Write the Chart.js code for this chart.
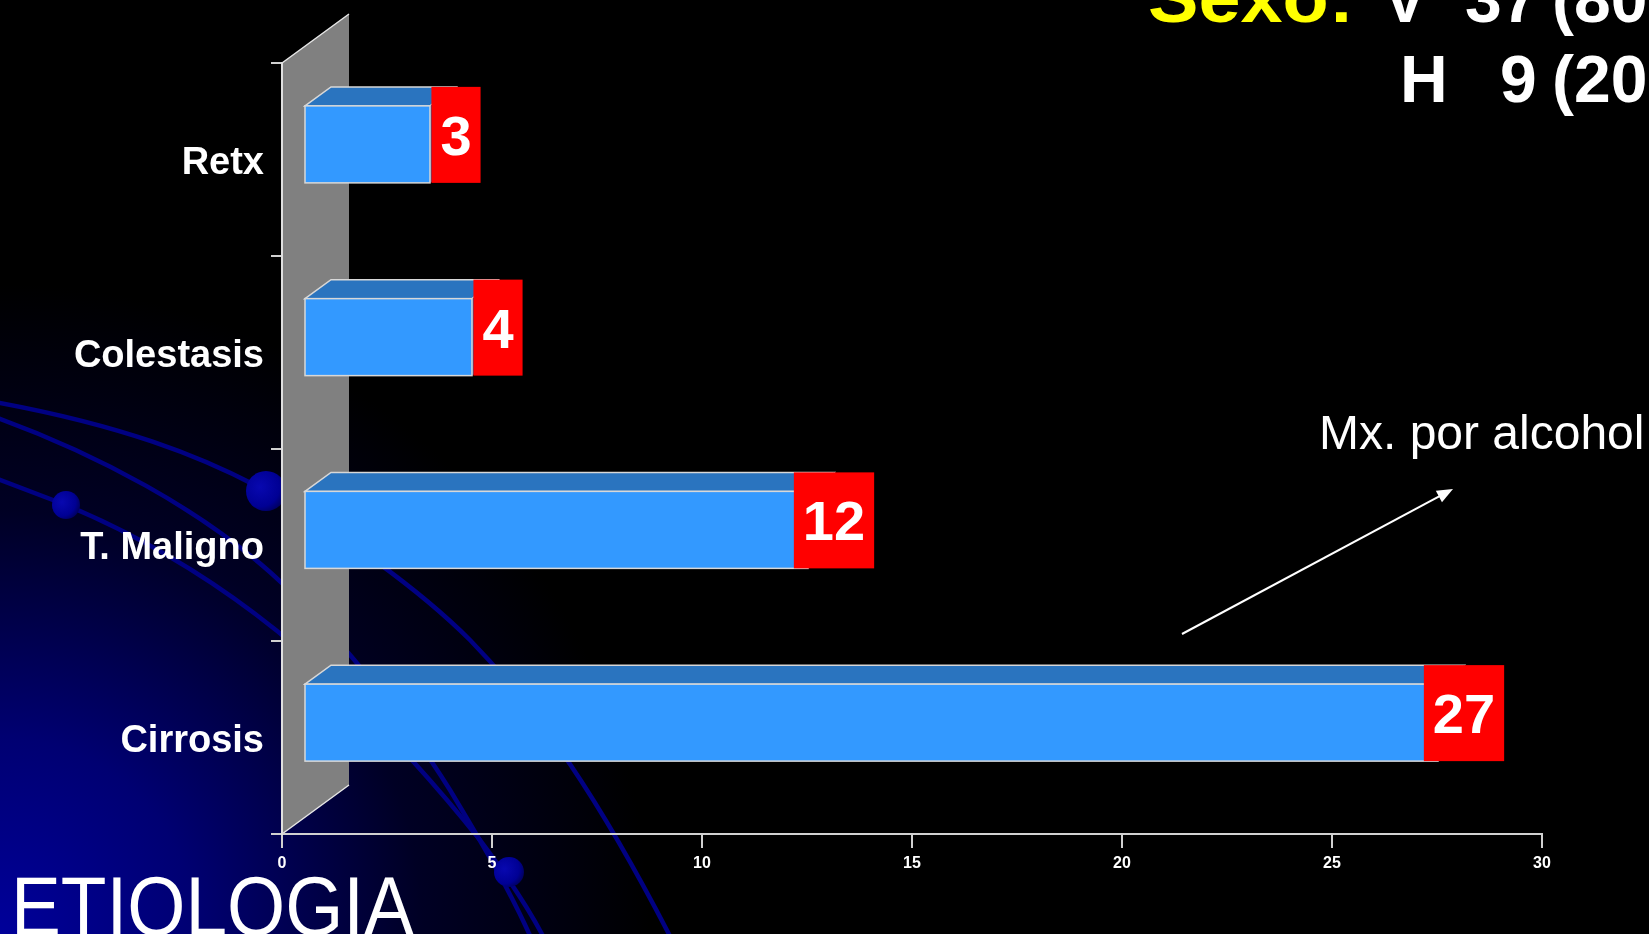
<!DOCTYPE html>
<html>
<head>
<meta charset="utf-8">
<script src="https://cdn.jsdelivr.net/npm/chart.js@4"></script>
<style>
  html, body { margin: 0; padding: 0; background: #000; }
  body { width: 1649px; height: 934px; overflow: hidden; position: relative; font-family: 'Liberation Sans', Arial, sans-serif; }
  #bg { position: absolute; left: 0; top: 0; }
  #chart { position: absolute; left: 0; top: 0; }
  .txt { position: absolute; white-space: nowrap; line-height: 1; color: #fff; }
  .big { font-size: 66px; font-weight: bold; }
</style>
</head>
<body>
<svg id="bg" width="1649" height="934" viewBox="0 0 1649 934">
  <defs>
    <radialGradient id="glow" cx="0" cy="934" r="650" gradientUnits="userSpaceOnUse">
      <stop offset="0" stop-color="#00009a"/>
      <stop offset="0.3" stop-color="#000072"/>
      <stop offset="0.65" stop-color="#000024"/>
      <stop offset="1" stop-color="#000000"/>
    </radialGradient>
    <radialGradient id="ball" cx="0.35" cy="0.4" r="0.7">
      <stop offset="0" stop-color="#0808b0"/>
      <stop offset="0.7" stop-color="#000094"/>
      <stop offset="1" stop-color="#000058"/>
    </radialGradient>
  </defs>
  <rect width="1649" height="934" fill="#000"/>
  <rect width="1649" height="934" fill="url(#glow)"/>
  <g fill="none" stroke="#000082" stroke-width="4.5">
    <path d="M -5 402 C 120 425, 200 455, 266 491 C 340 532, 420 590, 470 640 C 540 712, 600 800, 672 940"/>
    <path d="M -5 417 C 100 455, 200 510, 271 573 C 330 626, 400 710, 450 790 C 480 840, 510 890, 532 940"/>
    <path d="M -5 478 L 66 505 C 150 540, 230 590, 300 650 C 380 720, 440 790, 480 840 C 510 880, 530 910, 545 940"/>
  </g>
  <circle cx="266" cy="491" r="20" fill="url(#ball)"/>
  <circle cx="66" cy="505" r="14" fill="url(#ball)"/>
  <circle cx="509" cy="872" r="15" fill="url(#ball)"/>
</svg>
<canvas id="chart" width="1649" height="934"></canvas>

<div class="txt" style="left:1148px; top:-37px; font-size:70px; font-weight:bold; color:#ffff00; transform:scaleX(1.08); transform-origin:left top;">Sexo:</div>
<div class="txt big" style="left:1383px; top:-34px;">V</div>
<div class="txt big" style="left:1465px; top:-34px;">37</div>
<div class="txt big" style="left:1552px; top:-34px;">(80%)</div>
<div class="txt big" style="left:1400px; top:46px;">H</div>
<div class="txt big" style="left:1500px; top:46px;">9</div>
<div class="txt big" style="left:1552px; top:46px;">(20%)</div>
<div class="txt" style="left:1319px; top:409px; font-size:48px;">Mx. por alcohol</div>
<div class="txt" style="left:11px; top:864px; font-size:84px; transform:scaleX(0.89); transform-origin:left top;">ETIOLOGIA</div>

<script>
const categories = ['Retx', 'Colestasis', 'T. Maligno', 'Cirrosis']
const cases = [3, 4, 12, 27]
const xTicks = [0, 5, 10, 15, 20, 25, 30]

const FONT = "'Liberation Sans', Arial, sans-serif"

// 3D look: front face shifted, top face depth, grey back wall
const shiftX = 22, shiftY = 15
const depthX = 26, depthY = 19
const wallX = 67, wallY = 49

const bar3d = {
    id: 'bar3d',
    beforeDraw(chart) {
        const { ctx, chartArea: a } = chart
        ctx.save()
        ctx.beginPath()
        ctx.moveTo(a.left, a.top)
        ctx.lineTo(a.left + wallX, a.top - wallY)
        ctx.lineTo(a.left + wallX, a.bottom - wallY)
        ctx.lineTo(a.left, a.bottom)
        ctx.closePath()
        ctx.fillStyle = '#808080'
        ctx.fill()
        ctx.strokeStyle = '#e6e6e6'
        ctx.lineWidth = 1.5
        ctx.beginPath()
        ctx.moveTo(a.left, a.top)
        ctx.lineTo(a.left + wallX, a.top - wallY)
        ctx.moveTo(a.left, a.bottom)
        ctx.lineTo(a.left + wallX, a.bottom - wallY)
        ctx.stroke()
        ctx.restore()
    },
    afterDatasetsDraw(chart) {
        const ctx = chart.ctx
        const meta = chart.getDatasetMeta(0)
        ctx.save()
        meta.data.forEach((el, i) => {
            const p = el.getProps(['x', 'y', 'base', 'height'], true)
            const x0 = p.base + shiftX, x1 = p.x + shiftX
            const y0 = p.y - shiftY - p.height / 2
            const y1 = p.y - shiftY + p.height / 2

            ctx.lineWidth = 1.5
            ctx.strokeStyle = '#d8d8d8'

            // top face
            ctx.beginPath()
            ctx.moveTo(x0, y0)
            ctx.lineTo(x0 + depthX, y0 - depthY)
            ctx.lineTo(x1 + depthX, y0 - depthY)
            ctx.lineTo(x1, y0)
            ctx.closePath()
            ctx.fillStyle = '#2a74bf'
            ctx.fill()
            ctx.stroke()

            // side face
            ctx.beginPath()
            ctx.moveTo(x1, y0)
            ctx.lineTo(x1 + depthX, y0 - depthY)
            ctx.lineTo(x1 + depthX, y1 - depthY)
            ctx.lineTo(x1, y1)
            ctx.closePath()
            ctx.fillStyle = '#1f5c99'
            ctx.fill()

            // front face
            ctx.fillStyle = '#3399ff'
            ctx.fillRect(x0, y0, x1 - x0, y1 - y0)
            ctx.strokeRect(x0, y0, x1 - x0, y1 - y0)

            // red value label
            const label = String(cases[i])
            ctx.font = 'bold 56px ' + FONT
            const w = ctx.measureText(label).width + 18
            const cx = x1 + depthX
            const top = y0 - depthY
            ctx.fillStyle = '#ff0000'
            ctx.fillRect(cx - w / 2, top, w, y1 - top)
            ctx.fillStyle = '#ffffff'
            ctx.textAlign = 'center'
            ctx.textBaseline = 'alphabetic'
            ctx.fillText(label, cx, (top + y1) / 2 + 20)
        })
        ctx.restore()
    },
    afterDraw(chart) {
        // annotation arrow
        const ctx = chart.ctx
        const sx = 1182, sy = 634, tx = 1453, ty = 489
        const len = Math.hypot(tx - sx, ty - sy)
        const ux = (tx - sx) / len, uy = (ty - sy) / len
        ctx.save()
        ctx.strokeStyle = '#ffffff'
        ctx.fillStyle = '#ffffff'
        ctx.lineWidth = 2
        ctx.beginPath()
        ctx.moveTo(sx, sy)
        ctx.lineTo(tx - ux * 12, ty - uy * 12)
        ctx.stroke()
        ctx.beginPath()
        ctx.moveTo(tx, ty)
        ctx.lineTo(tx - ux * 16 - uy * 6.5, ty - uy * 16 + ux * 6.5)
        ctx.lineTo(tx - ux * 16 + uy * 6.5, ty - uy * 16 - ux * 6.5)
        ctx.closePath()
        ctx.fill()
        ctx.restore()
    }
}

const chartEtiologia = new Chart(document.querySelector('#chart').getContext('2d'), {
    type: 'bar',
    data: {
        labels: categories,
        datasets: [{
            label: 'Casos',
            data: cases,
            backgroundColor: 'rgba(0,0,0,0)',
            borderWidth: 0,
            barThickness: 77
        }]
    },
    options: {
        responsive: false,
        animation: false,
        devicePixelRatio: 1,
        indexAxis: 'y',
        layout: { padding: { top: 63, right: 107, left: 0, bottom: 0 } },
        plugins: {
            legend: { display: false },
            tooltip: { enabled: false }
        },
        scales: {
            x: {
                min: xTicks[0],
                max: xTicks[xTicks.length - 1],
                afterBuildTicks: (s) => { s.ticks = xTicks.map(v => ({ value: v })) },
                ticks: {
                    color: '#ffffff',
                    font: { family: FONT, size: 16, weight: 'bold' },
                    padding: 6,
                    maxRotation: 0
                },
                grid: { drawOnChartArea: false, tickLength: 14, color: '#d0d0d0', lineWidth: 2 },
                border: { color: '#d0d0d0', width: 2 },
                afterFit: (s) => { s.height = 100 }
            },
            y: {
                ticks: {
                    color: '#ffffff',
                    font: { family: FONT, size: 38, weight: 'bold' },
                    padding: 7,
                    labelOffset: 4
                },
                grid: { offset: true, drawOnChartArea: false, tickLength: 11, color: '#d0d0d0', lineWidth: 2 },
                border: { color: '#e0e0e0', width: 2 },
                afterFit: (s) => { s.width = 282 }
            }
        }
    },
    plugins: [bar3d]
})
</script>
</body>
</html>
